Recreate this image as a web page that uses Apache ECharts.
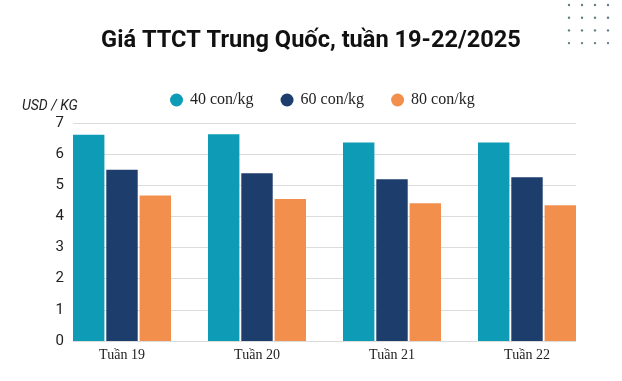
<!DOCTYPE html>
<html><head><meta charset="utf-8">
<script src="https://cdn.jsdelivr.net/npm/echarts@6/dist/echarts.min.js"></script>
<style>html,body{margin:0;padding:0;background:#fff}#c{width:622px;height:381px}</style>
</head><body><div id="c"></div>
<script>
const categories = ['Tuần 19', 'Tuần 20', 'Tuần 21', 'Tuần 22'];
const s40 = [6.62, 6.64, 6.37, 6.37];
const s60 = [5.50, 5.39, 5.19, 5.26];
const s80 = [4.67, 4.56, 4.42, 4.36];
const seriesNames = ['40 con/kg', '60 con/kg', '80 con/kg'];
const yTicks = [0, 1, 2, 3, 4, 5, 6, 7];

const colors = ['#0e9bb6', '#1d3d6d', '#f28f4c'];
const chart = echarts.init(document.getElementById('c'), null, {renderer: 'canvas'});

const dots = [];
for (let r = 0; r < 4; r++) for (let c = 0; c < 4; c++) {
  dots.push({type: 'circle', shape: {cx: 569 + c * 13, cy: 5 + r * 12.7, r: 1.2}, style: {fill: '#5f7f86'}, silent: true});
}

chart.setOption({
  animation: false,
  backgroundColor: '#fff',
  color: colors,
  title: [
    {text: 'Giá TTCT Trung Quốc, tuần 19-22/2025', left: 'center', top: 24,
     textStyle: {fontFamily: 'Roboto', fontWeight: 'bold', fontSize: 23.6, color: '#111'}},
    {text: 'USD / KG', left: 17, top: 94,
     textStyle: {fontFamily: 'Roboto', fontStyle: 'italic', fontWeight: 'normal', fontSize: 14, color: '#222'}}
  ],
  legend: {
    top: 92, left: 170, padding: 0, icon: 'circle', itemWidth: 13, itemHeight: 13, itemGap: 27,
    textStyle: {fontFamily: 'Liberation Serif', fontSize: 16, color: '#222', padding: [0, 0, 0, 2]},
    data: seriesNames
  },
  graphic: dots,
  grid: [
    {left: 73, right: 46, top: 123, bottom: 40, containLabel: false},
    {left: 54.5, right: 27.5, top: 123, bottom: 40, containLabel: false}
  ],
  xAxis: [
    {gridIndex: 0, type: 'value', show: false, min: 0, max: 1},
    {gridIndex: 1, type: 'category', data: categories,
     axisLine: {show: false}, axisTick: {show: false},
     axisLabel: {fontFamily: 'Liberation Serif', fontSize: 14, color: '#222', margin: 7}}
  ],
  yAxis: [
    {gridIndex: 0, type: 'value', min: yTicks[0], max: yTicks[yTicks.length - 1], interval: 1,
     axisLine: {show: false}, axisTick: {show: false},
     axisLabel: {fontFamily: 'Roboto', fontSize: 15, color: '#222', margin: 9},
     splitLine: {lineStyle: {color: '#dcdcdc', width: 1}}},
    {gridIndex: 1, type: 'value', min: yTicks[0], max: yTicks[yTicks.length - 1], show: false}
  ],
  series: [s40, s60, s80].map((d, i) => ({
    name: seriesNames[i], type: 'bar', xAxisIndex: 1, yAxisIndex: 1, data: d,
    barGap: '6%', barCategoryGap: '27.4%',
    itemStyle: {color: colors[i]}
  }))
});
</script></body></html>
